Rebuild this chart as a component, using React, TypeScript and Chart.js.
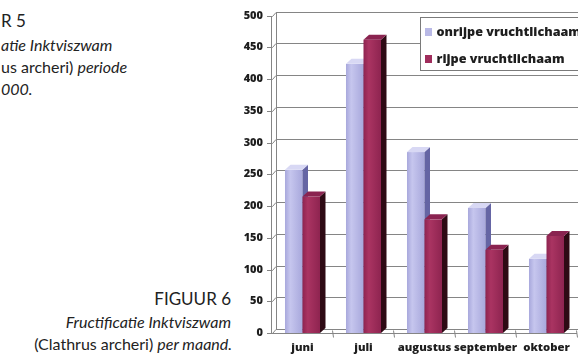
import React, { useEffect, useRef } from "react";
import { Chart, registerables } from "chart.js";

Chart.register(...registerables);

// Maanden en aantallen vruchtlichamen
const months = ["juni", "juli", "augustus", "september", "oktober"];
const seriesNames = ["onrijpe vruchtlichaam", "rijpe vruchtlichaam"];
const onrijpe = [257, 424, 285, 197, 117];
const rijpe = [215, 462, 179, 131, 153];
const yMax = 500;
const yStep = 50;

const chartFont = "'Open Sans', Lato, sans-serif";

// Face colours per series: front (light/dark edge), side, top
const faces = [
  { front: ["#c6c6ee", "#a8a8dc"], side: "#6565a4", top: "#d8d8f4", swatch: "#b9b9e6" },
  { front: ["#aa3462", "#8e2450"], side: "#2e0a14", top: "#8a2350", swatch: "#a02d5c" },
];

const WALL = 4; // back-wall offset
const DX = 5.5; // bar depth (x)
const DY = 5; // bar depth (y)

const depthPlugin = {
  id: "depthBars",
  beforeDatasetsDraw(chart: any) {
    const { ctx, chartArea } = chart;
    const y = chart.scales.y;
    const { left, right, bottom, top } = chartArea;
    ctx.save();
    ctx.strokeStyle = "#858585";
    ctx.lineWidth = 1;
    ctx.beginPath();
    for (let v = 0; v <= yMax; v += yStep) {
      const py = Math.round(y.getPixelForValue(v)) + 0.5;
      ctx.moveTo(left - 5, py);
      ctx.lineTo(left + 0.5, py);
      ctx.lineTo(left + WALL, py - WALL);
      ctx.lineTo(right + WALL + 10, py - WALL);
    }
    // front axis and left wall edge
    ctx.moveTo(Math.round(left) - 0.5, Math.round(top));
    ctx.lineTo(Math.round(left) - 0.5, Math.round(bottom) + 1);
    ctx.moveTo(Math.round(left + WALL) + 0.5, Math.round(top - WALL));
    ctx.lineTo(Math.round(left + WALL) + 0.5, Math.round(bottom - WALL));
    // floor front edge and category ticks
    const fy = Math.round(bottom) + 0.5;
    ctx.moveTo(left, fy);
    ctx.lineTo(right, fy);
    const n = months.length;
    for (let i = 1; i <= n; i++) {
      const bx = Math.round(left + ((right - left) * i) / n) + 0.5;
      ctx.moveTo(bx - 1, fy - 3);
      ctx.lineTo(bx, fy + 4);
    }
    ctx.stroke();
    ctx.restore();
  },
  afterDatasetsDraw(chart: any) {
    const { ctx } = chart;
    const metas = [chart.getDatasetMeta(0), chart.getDatasetMeta(1)];
    ctx.save();
    for (let i = 0; i < months.length; i++) {
      metas.forEach((meta: any, d: number) => {
        const bar = meta.data[i];
        if (!bar) return;
        const { x, y, base, width } = bar.getProps(["x", "y", "base", "width"], true);
        const l = x - width / 2;
        const r = x + width / 2;
        const f = faces[d];
        const g = ctx.createLinearGradient(l, 0, r, 0);
        g.addColorStop(0, f.front[1]);
        g.addColorStop(0.3, f.front[0]);
        g.addColorStop(1, f.front[1]);
        ctx.fillStyle = g;
        ctx.fillRect(l, y, width, base - y);
        // side face
        ctx.fillStyle = f.side;
        ctx.beginPath();
        ctx.moveTo(r, y);
        ctx.lineTo(r + DX, y - DY);
        ctx.lineTo(r + DX, base - DY);
        ctx.lineTo(r, base);
        ctx.closePath();
        ctx.fill();
        // top face
        ctx.fillStyle = f.top;
        ctx.beginPath();
        ctx.moveTo(l, y);
        ctx.lineTo(l + DX, y - DY);
        ctx.lineTo(r + DX, y - DY);
        ctx.lineTo(r, y);
        ctx.closePath();
        ctx.fill();
      });
    }
    ctx.restore();
  },
  afterDraw(chart: any) {
    // legend box
    const { ctx } = chart;
    const bx = 190.5;
    const by = 17.5;
    ctx.save();
    ctx.fillStyle = "#ffffff";
    ctx.strokeStyle = "#7a7a7a";
    ctx.lineWidth = 1;
    ctx.fillRect(bx, by, 200, 53);
    ctx.strokeRect(bx, by, 200, 53);
    ctx.font = `800 12.6px ${chartFont}`;
    ctx.textBaseline = "middle";
    const rows = [32, 59];
    seriesNames.forEach((name, d) => {
      ctx.fillStyle = faces[d].swatch;
      ctx.fillRect(bx + 4.5, rows[d] - 4, 7, 8);
      ctx.fillStyle = "#1e1e1e";
      ctx.fillText(name, bx + 16, rows[d]);
    });
    ctx.restore();
  },
};

function BarChart() {
  const ref = useRef<HTMLCanvasElement>(null);
  useEffect(() => {
    const canvas = ref.current;
    if (!canvas) return;
    const chart = new Chart(canvas, {
      type: "bar",
      data: {
        labels: months,
        datasets: [
          { label: seriesNames[0], data: onrijpe, backgroundColor: "rgba(0,0,0,0)" },
          { label: seriesNames[1], data: rijpe, backgroundColor: "rgba(0,0,0,0)" },
        ],
      },
      options: {
        animation: false,
        responsive: false,
        layout: { padding: { top: 15, right: 1, left: 0, bottom: 0 } },
        datasets: { bar: { categoryPercentage: 0.574, barPercentage: 1 } },
        plugins: { legend: { display: false }, tooltip: { enabled: false } },
        scales: {
          x: {
            grid: { display: false, drawTicks: false },
            border: { display: false },
            ticks: {
              color: "#1e1e1e",
              font: { family: chartFont, size: 11.3, weight: "800" },
              padding: 8,
              maxRotation: 0,
              autoSkip: false,
            },
            afterFit: (s: any) => {
              s.height = 22;
            },
          },
          y: {
            min: 0,
            max: yMax,
            grid: { display: false, drawTicks: false },
            border: { display: false },
            ticks: {
              stepSize: yStep,
              color: "#1e1e1e",
              font: { family: chartFont, size: 11, weight: "800" },
              padding: 9,
            },
            afterFit: (s: any) => {
              s.width = 42;
            },
          },
        },
      },
      plugins: [depthPlugin],
    });
    return () => chart.destroy();
  }, []);
  return (
    <canvas
      ref={ref}
      width={348}
      height={355}
      style={{ position: "absolute", left: 230, top: 0, width: 348, height: 355 }}
    />
  );
}

const txt: React.CSSProperties = {
  position: "absolute",
  fontFamily: "Lato, 'Open Sans', sans-serif",
  color: "#222222",
  whiteSpace: "nowrap",
  lineHeight: 1,
  fontSize: 16,
};

export default function App() {
  return (
    <div
      style={{
        position: "fixed",
        left: 0,
        top: 0,
        width: 578,
        height: 355,
        overflow: "hidden",
        background: "#ffffff",
      }}
    >
      <div style={{ ...txt, left: 1, top: 12, fontSize: 17 }}>R 5</div>
      <div style={{ ...txt, left: 1, top: 37, fontStyle: "italic" }}>atie Inktviszwam</div>
      <div style={{ ...txt, left: 1, top: 59 }}>
        us archeri) <i>periode</i>
      </div>
      <div style={{ ...txt, left: 1, top: 81, fontStyle: "italic" }}>000.</div>

      <div style={{ ...txt, right: 347, top: 290, fontSize: 17, textAlign: "right" }}>FIGUUR 6</div>
      <div style={{ ...txt, right: 347, top: 314, fontStyle: "italic", textAlign: "right" }}>
        Fructificatie Inktviszwam
      </div>
      <div style={{ ...txt, right: 346, top: 336, textAlign: "right" }}>
        (Clathrus archeri) <i>per maand.</i>
      </div>
      <BarChart />
    </div>
  );
}
